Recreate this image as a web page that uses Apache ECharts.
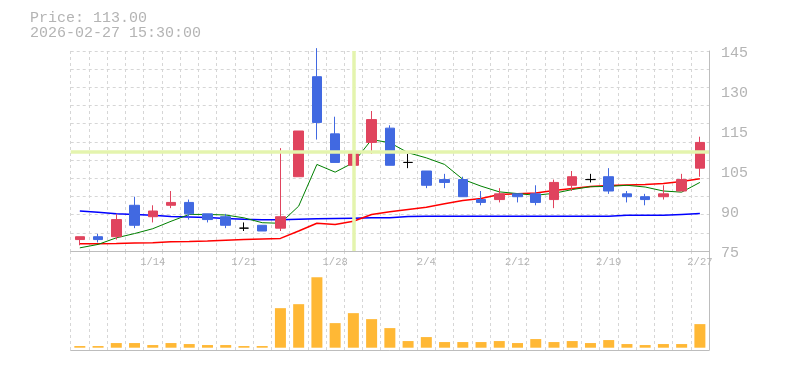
<!DOCTYPE html>
<html>
<head>
<meta charset="utf-8">
<script src="https://cdn.jsdelivr.net/npm/echarts@6/dist/echarts.min.js"></script>
<style>html,body{margin:0;padding:0;background:#fff;}#c{width:785px;height:370px;}</style>
</head>
<body>
<div id="c"></div>
<script>
// ---- data ----
const headerPrice = 'Price: 113.00';
const headerTime = '2026-02-27 15:30:00';
const dates = ['1/7','1/8','1/9','1/13','1/14','1/15','1/16','1/19','1/20','1/21','1/22','1/23','1/26','1/27','1/28','1/29','1/30','2/2','2/3','2/4','2/5','2/6','2/9','2/10','2/12','2/13','2/16','2/17','2/18','2/19','2/20','2/24','2/25','2/26','2/27'];
const opens  = [79,80,80,91,87,91,92,88,87,83,84,83,101,136,116,105,113,118,106,103,100,100,93,93,95,95,93,98,100,101,95,94,94,96,104];
const closes = [80,79,86,84,89,92,88,86,84,83,82,87,117,120,106,109,121,105,106,98,99,94,92,95,94,92,99,101,100,96,94,93,95,100,113];
const lows   = [77,78,79,83,85,90,86,85,83,82,82,82,101,114,106,101,109,105,104,97,97,94,91,92,92,91,90,96,99,95,92,91,93,96,101];
const highs  = [80,81,88,94,91,96,93,88,88,85,84,111,117,146,122,124,124,119,109,103,102,101,96,97,95,98,100,103,102,104,96,95,98,102,115];
const volumes = [5000,5000,14000,14000,8000,14000,11000,8000,8000,5000,5000,119000,131000,212000,74000,104000,86000,59000,20000,32000,17000,17000,17000,20000,14000,26000,17000,20000,14000,23000,11000,8000,11000,11000,71000];
const maShort = [76.1,77.3,79.6,81.1,82.8,85.4,87.8,87.8,87.6,86.6,84.9,84.7,90.7,105.3,102.6,105.9,114.0,112.9,109.4,107.6,105.3,100.1,97.7,95.7,95.1,94.5,95.2,96.5,97.5,97.6,98.0,97.4,96.0,95.6,99.0];
const maMid = [77.5,77.5,77.6,77.8,77.9,78.2,78.3,78.5,78.8,79.0,79.2,79.4,82.0,84.7,84.3,85.4,87.8,88.7,89.5,90.3,91.5,92.7,93.4,94.8,95.0,95.3,96.2,96.9,97.6,97.9,98.1,98.3,98.6,99.3,100.3];
const maLong = [89.0,88.6,88.0,87.8,87.5,87.1,86.9,86.7,86.4,86.1,85.9,85.9,86.1,86.3,86.4,86.5,86.6,86.6,87.1,87.2,87.2,87.2,87.2,87.2,87.2,87.2,87.2,87.2,87.2,87.2,87.5,87.5,87.5,87.8,88.1];
const xTickLabels = ['1/14','1/21','1/28','2/4','2/12','2/19','2/27'];
const yTickLabels = ['75','90','105','115','130','145'];
const crossDate = '1/29';
const crossPrice = 109.8;

// ---- chart ----
const FONT = 'Liberation Mono';
const TXT = '#b4b4b4';
const GRIDC = '#d6d6d6';
const AXC = '#bdbdbd';
const candleData = dates.map((d, i) => [opens[i], closes[i], lows[i], highs[i]]);

const chart = echarts.init(document.getElementById('c'), null, {renderer: 'canvas'});
chart.setOption({
  animation: false,
  backgroundColor: '#fff',
  graphic: [
    {type: 'text', left: 30, top: 11, style: {text: headerPrice, font: '15px "' + FONT + '"', fill: TXT}},
    {type: 'text', left: 30, top: 26, style: {text: headerTime, font: '15px "' + FONT + '"', fill: TXT}}
  ],
  grid: [
    {left: 70.7, right: 76, top: 51, height: 200},
    {left: 70.7, right: 76, top: 251, height: 99}
  ],
  xAxis: [
    {type: 'category', gridIndex: 0, data: dates, boundaryGap: true,
     axisLine: {show: true, onZero: false, lineStyle: {color: AXC, width: 1}},
     axisTick: {show: false, interval: 0},
     axisLabel: {show: true, interval: (i, v) => xTickLabels.indexOf(v) >= 0, color: TXT, fontSize: 10.5, fontFamily: FONT, margin: 6},
     splitLine: {show: true, interval: 0, lineStyle: {color: GRIDC, type: [3, 3], width: 1}}},
    {type: 'category', gridIndex: 1, data: dates, boundaryGap: true,
     axisLine: {show: true, onZero: false, lineStyle: {color: AXC, width: 1}},
     axisTick: {show: false}, axisLabel: {show: false},
     splitLine: {show: true, interval: 0, lineStyle: {color: GRIDC, type: [3, 3], width: 1}}}
  ],
  yAxis: [
    {type: 'value', gridIndex: 0, position: 'right', min: 75, max: 145, interval: 14,
     axisLine: {show: true, lineStyle: {color: AXC, width: 1}}, axisTick: {show: false},
     axisLabel: {color: TXT, fontSize: 15, fontFamily: FONT, margin: 12, verticalAlign: 'top', lineHeight: 5,
                 formatter: v => yTickLabels[Math.round((v - 75) / 14)]},
     splitLine: {show: false}},
    {type: 'value', gridIndex: 0, position: 'left', min: 0, max: 11, interval: 1,
     axisLine: {show: false}, axisTick: {show: false}, axisLabel: {show: false},
     splitLine: {show: true, lineStyle: {color: GRIDC, type: [3, 3], width: 1}}},
    {type: 'value', gridIndex: 1, position: 'right', min: -6900, max: 291000,
     axisLine: {show: true, lineStyle: {color: AXC, width: 1}}, axisTick: {show: false},
     axisLabel: {show: false}, splitLine: {show: false}}
  ],
  series: [
    {type: 'line', xAxisIndex: 0, yAxisIndex: 0, data: [], z: 1, silent: true,
     markLine: {silent: true, symbol: ['none', 'none'], label: {show: false},
       lineStyle: {color: '#e4f4ae', width: 3.5, type: 'solid'},
       data: [{xAxis: crossDate}, {yAxis: crossPrice}]}},
    {name: 'MA long', type: 'line', xAxisIndex: 0, yAxisIndex: 0, data: maLong, showSymbol: false, z: 2,
     lineStyle: {color: '#0000ff', width: 1.5}},
    {name: 'MA mid', type: 'line', xAxisIndex: 0, yAxisIndex: 0, data: maMid, showSymbol: false, z: 2,
     lineStyle: {color: '#ff0000', width: 1.5}},
    {name: 'MA short', type: 'line', xAxisIndex: 0, yAxisIndex: 0, data: maShort, showSymbol: false, z: 2,
     lineStyle: {color: '#008000', width: 1}},
    {name: 'price', type: 'candlestick', xAxisIndex: 0, yAxisIndex: 0, data: candleData, z: 3, clip: false,
     barWidth: 10,
     itemStyle: {color: '#e0445e', color0: '#4169e1', borderColor: '#e0445e', borderColor0: '#4169e1',
                 borderColorDoji: '#000000', borderWidth: 1}},
    {name: 'volume', type: 'bar', xAxisIndex: 1, yAxisIndex: 2, data: volumes, barWidth: 11,
     itemStyle: {color: '#ffb835'}}
  ]
});
</script>
</body>
</html>
